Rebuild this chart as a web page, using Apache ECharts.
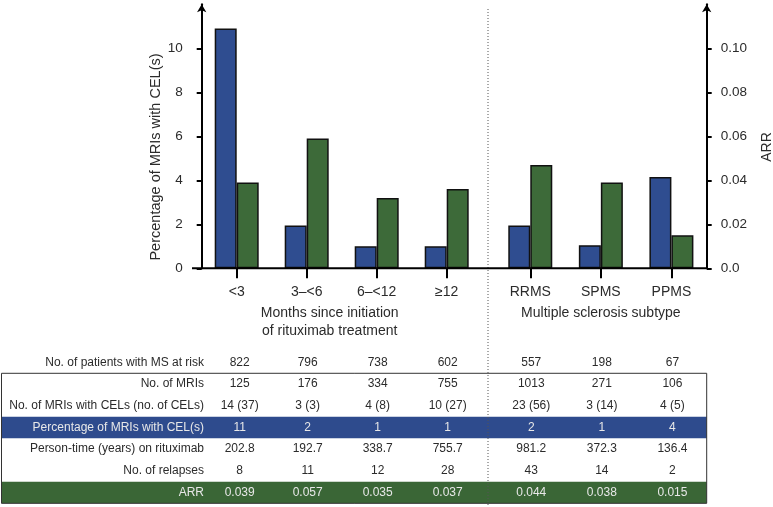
<!DOCTYPE html>
<html><head><meta charset="utf-8">
<script src="https://cdn.jsdelivr.net/npm/echarts@6/dist/echarts.min.js"></script>
<style>html,body{margin:0;padding:0;background:#fff}#c{width:773px;height:507px}</style>
</head><body><div id="c"></div>
<script>
// ---- data ----
const monthCats = ['<3', '3–<6', '6–<12', '≥12'];
const subtypeCats = ['RRMS', 'SPMS', 'PPMS'];
const pctMonths = [10.9, 1.95, 1.0, 1.0];
const pctSubtype = [1.95, 1.05, 4.15];
const arrMonths = [0.039, 0.059, 0.032, 0.036];
const arrSubtype = [0.047, 0.039, 0.015];
const leftTicks = [0, 2, 4, 6, 8, 10];
const rightTicks = [0, 0.02, 0.04, 0.06, 0.08, 0.10];
const leftTitle = 'Percentage of MRIs with CEL(s)';
const rightTitle = 'ARR';
const monthsTitle = 'Months since initiation\nof rituximab treatment';
const subtypeTitle = 'Multiple sclerosis subtype';
const rowLabels = ['No. of patients with MS at risk', 'No. of MRIs', 'No. of MRIs with CELs (no. of CELs)',
  'Percentage of MRIs with CEL(s)', 'Person-time (years) on rituximab', 'No. of relapses', 'ARR'];
const rowPatients = ['822', '796', '738', '602', '557', '198', '67'];
const rowMRIs = ['125', '176', '334', '755', '1013', '271', '106'];
const rowCELs = ['14 (37)', '3 (3)', '4 (8)', '10 (27)', '23 (56)', '3 (14)', '4 (5)'];
const rowPct = ['11', '2', '1', '1', '2', '1', '4'];
const rowPersonTime = ['202.8', '192.7', '338.7', '755.7', '981.2', '372.3', '136.4'];
const rowRelapses = ['8', '11', '12', '28', '43', '14', '2'];
const rowARR = ['0.039', '0.057', '0.035', '0.037', '0.044', '0.038', '0.015'];

// ---- style ----
const FONT = '"Liberation Sans", Arial, sans-serif';
const BLUE = '#2f4d90';
const GREEN = '#3d6a39';
const BAND_BLUE = '#2e4b8d';
const BAND_GREEN = '#3a6636';
const TXT = '#2b2b2b';

const chart = echarts.init(document.getElementById('c'), null, {renderer: 'canvas'});

const yLeft = {
  type: 'value', min: 0, max: 12, interval: 2,
  axisLine: {show: true, lineStyle: {color: '#000', width: 2}, symbol: ['none', 'arrow'], symbolSize: [7, 8]},
  axisTick: {show: true, length: 5, lineStyle: {color: '#000', width: 2}, customValues: leftTicks},
  axisLabel: {margin: 19, fontSize: 13.5, color: TXT, fontFamily: FONT, customValues: leftTicks},
  splitLine: {show: false}
};
const yRight = {
  type: 'value', min: 0, max: 0.12, interval: 0.02, position: 'right',
  axisLine: {show: true, lineStyle: {color: '#000', width: 2}, symbol: ['none', 'arrow'], symbolSize: [7, 8]},
  axisTick: {show: true, length: 5, lineStyle: {color: '#000', width: 2}, customValues: rightTicks},
  axisLabel: {margin: 14, fontSize: 13.5, color: TXT, fontFamily: FONT, customValues: rightTicks,
    formatter: v => v === 0 ? '0.0' : v.toFixed(2)},
  splitLine: {show: false}
};
const yHidden = (max) => ({type: 'value', min: 0, max: max, show: false, splitLine: {show: false}});
const xCat = (grid, data, name, pad) => ({
  type: 'category', gridIndex: grid, data: data,
  axisLine: {show: false},
  axisTick: {show: true, alignWithLabel: true, length: 10, lineStyle: {color: '#000', width: 2}},
  axisLabel: {margin: 17, fontSize: 14, color: TXT, fontFamily: FONT},
  name: name, nameLocation: 'middle', nameGap: 36,
  nameTextStyle: {fontSize: 14, color: TXT, fontFamily: FONT, lineHeight: 18, padding: pad}
});
const barBase = {type: 'bar', barWidth: 22, barGap: '0%',
  itemStyle: {borderColor: '#111', borderWidth: 1.5}};

chart.setOption({
  animation: false,
  backgroundColor: '#fff',
  grid: [
    {left: 201.7, top: 4.3, width: 280, height: 264},
    {left: 495, top: 4.3, width: 211.7, height: 264}
  ],
  xAxis: [
    xCat(0, monthCats, monthsTitle, [0, 24, 0, 0]),
    xCat(1, subtypeCats, subtypeTitle, [0, 0, 0, 0])
  ],
  yAxis: [
    Object.assign({gridIndex: 0}, yLeft),
    Object.assign({gridIndex: 0}, yHidden(0.12)),
    Object.assign({gridIndex: 1}, yHidden(12)),
    Object.assign({gridIndex: 1}, yRight)
  ],
  series: [
    Object.assign({}, barBase, {name: 'pct1', xAxisIndex: 0, yAxisIndex: 0, data: pctMonths, itemStyle: Object.assign({color: BLUE}, barBase.itemStyle)}),
    Object.assign({}, barBase, {name: 'arr1', xAxisIndex: 0, yAxisIndex: 1, data: arrMonths, itemStyle: Object.assign({color: GREEN}, barBase.itemStyle)}),
    Object.assign({}, barBase, {name: 'pct2', xAxisIndex: 1, yAxisIndex: 2, data: pctSubtype, itemStyle: Object.assign({color: BLUE}, barBase.itemStyle)}),
    Object.assign({}, barBase, {name: 'arr2', xAxisIndex: 1, yAxisIndex: 3, data: arrSubtype, itemStyle: Object.assign({color: GREEN}, barBase.itemStyle)})
  ]
});

// ---- layout of the overlay (axis baseline, divider, titles, table) ----
const baseY = chart.convertToPixel({yAxisIndex: 0}, 0);
const leftX = chart.convertToPixel({xAxisIndex: 0}, 0) - 35; // grid 1 left edge
const rightX = 706.7;
const cols = monthCats.map(c => chart.convertToPixel({xAxisIndex: 0}, c))
  .concat(subtypeCats.map(c => chart.convertToPixel({xAxisIndex: 1}, c)));
const divX = 488;
const boxTop = 373.3, rowH = 21.67, boxLeft = 1.5;
const rows = [rowPatients, rowMRIs, rowCELs, rowPct, rowPersonTime, rowRelapses, rowARR];
const rowY = i => i === 0 ? boxTop - 10.6 : boxTop + (i - 0.5) * rowH;

const g = [];
g.push({type: 'line', shape: {x1: 192, y1: baseY, x2: rightX, y2: baseY}, style: {stroke: '#000', lineWidth: 2}, z: 10});
g.push({type: 'rect', shape: {x: boxLeft, y: boxTop + 2 * rowH, width: rightX - boxLeft, height: rowH}, style: {fill: BAND_BLUE}, z: 1});
g.push({type: 'rect', shape: {x: boxLeft, y: boxTop + 5 * rowH, width: rightX - boxLeft, height: rowH}, style: {fill: BAND_GREEN}, z: 1});
g.push({type: 'rect', shape: {x: boxLeft, y: boxTop, width: rightX - boxLeft, height: 6 * rowH}, style: {fill: 'none', stroke: '#333', lineWidth: 1}, z: 3});
g.push({type: 'line', shape: {x1: divX, y1: 9, x2: divX, y2: 507}, style: {stroke: '#555', lineWidth: 1, lineDash: [1, 2]}, z: 4});
g.push({type: 'text', x: 155.5, y: 157, rotation: Math.PI / 2,
  style: {text: leftTitle, align: 'center', verticalAlign: 'middle', fontSize: 14.5, fill: TXT, fontFamily: FONT}, z: 5});
g.push({type: 'text', x: 767, y: 147, rotation: Math.PI / 2,
  style: {text: rightTitle, align: 'center', verticalAlign: 'middle', fontSize: 14, fill: TXT, fontFamily: FONT}, z: 5});
rows.forEach((vals, i) => {
  const light = (i === 3 || i === 6);
  const fill = light ? '#e8e8e8' : TXT;
  const y = rowY(i);
  g.push({type: 'text', x: 204, y: y, style: {text: rowLabels[i], align: 'right', verticalAlign: 'middle', fontSize: 12, fill: fill, fontFamily: FONT}, z: 5});
  vals.forEach((v, j) => {
    g.push({type: 'text', x: cols[j] + (j === 0 ? 3 : 1), y: y, style: {text: v, align: 'center', verticalAlign: 'middle', fontSize: 12, fill: fill, fontFamily: FONT}, z: 5});
  });
});
chart.setOption({graphic: g});
</script>
</body></html>
